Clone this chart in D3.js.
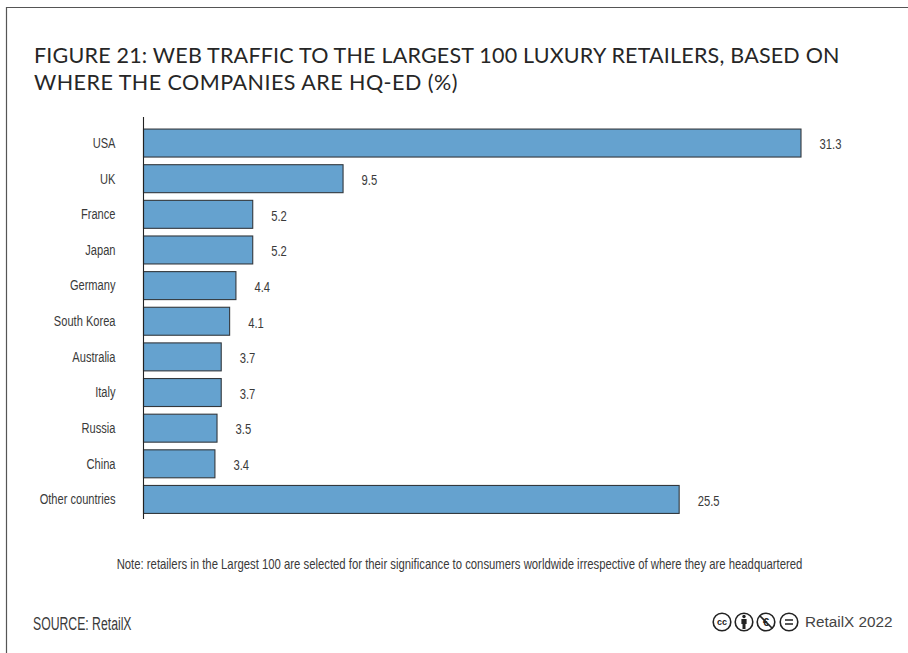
<!DOCTYPE html>
<html>
<head>
<meta charset="utf-8">
<script src="https://cdn.jsdelivr.net/npm/d3@7"></script>
<style>
  html, body { margin: 0; padding: 0; background: #fff; }
  svg { display: block; }
  .narrow { font-family: "Liberation Sans", sans-serif; fill: #3a3a3a; }
  .title { font-family: Lato, sans-serif; font-size: 21.5px; fill: #262626; }
</style>
</head>
<body>
<svg id="chart" width="908" height="653"></svg>
<script>
const categories = ["USA", "UK", "France", "Japan", "Germany", "South Korea", "Australia", "Italy", "Russia", "China", "Other countries"];
const shares = [31.3, 9.5, 5.2, 5.2, 4.4, 4.1, 3.7, 3.7, 3.5, 3.4, 25.5];
const titleLines = [
  "FIGURE 21: WEB TRAFFIC TO THE LARGEST 100 LUXURY RETAILERS, BASED ON",
  "WHERE THE COMPANIES ARE HQ-ED (%)"
];
const noteText = "Note: retailers in the Largest 100 are selected for their significance to consumers worldwide irrespective of where they are headquartered";
const sourceText = "SOURCE: RetailX";
const creditText = "RetailX 2022";

const svg = d3.select("#chart");

// Condensed text: no narrow face is available, so glyphs are squeezed horizontally
const squeezed = (px, py, sx = 0.75) => `translate(${px},${py}) scale(${sx},1)`;

// Frame: only the top and left rules are drawn
svg.append("path")
  .attr("d", "M908,7.5H6.5V653")
  .attr("fill", "none")
  .attr("stroke", "#555")
  .attr("stroke-width", 1.2);

// Heading
svg.append("g").selectAll("text").data(titleLines).join("text")
  .attr("class", "title")
  .attr("x", 34)
  .attr("y", (d, i) => 63 + i * 27)
  .attr("letter-spacing", (d, i) => (i === 0 ? 0.2 : 0.47))
  .text(d => d);

const x = d3.scaleLinear().domain([0, 31.3]).range([143.5, 801]);
const y = d3.scaleBand().domain(categories).range([125.5, 517]).paddingInner(0.215).paddingOuter(0.1);

// Bars
svg.append("g").selectAll("rect").data(shares).join("rect")
  .attr("x", x(0))
  .attr("y", (d, i) => y(categories[i]))
  .attr("width", d => x(d) - x(0))
  .attr("height", y.bandwidth())
  .attr("fill", "#65a2cf")
  .attr("stroke", "#33383d")
  .attr("stroke-width", 1.1);

// Category axis with the domain line only
const axis = svg.append("g")
  .attr("transform", `translate(${x(0)},0)`)
  .call(d3.axisLeft(y).tickSize(0).tickPadding(0));
axis.select(".domain")
  .attr("d", "M0,117V519")
  .attr("stroke", "#222")
  .attr("stroke-width", 1.1);
axis.selectAll("text")
  .attr("class", "narrow")
  .attr("font-size", 15)
  .attr("fill", null)
  .attr("x", 0)
  .attr("transform", squeezed(-28, 0, 0.74));

// Value labels
svg.append("g").selectAll("text").data(shares).join("text")
  .attr("class", "narrow")
  .attr("font-size", 15)
  .attr("transform", (d, i) => squeezed(x(d) + 18.5, y(categories[i]) + y.bandwidth() / 2 + 1))
  .attr("dy", "0.35em")
  .text(d => d.toFixed(1));

// Footnote and source
svg.append("text")
  .attr("class", "narrow")
  .attr("transform", squeezed(459.5, 569, 0.755))
  .attr("text-anchor", "middle")
  .attr("font-size", 15)
  .text(noteText);

svg.append("text")
  .attr("class", "narrow")
  .attr("transform", squeezed(33, 630, 0.68))
  .attr("font-size", 18)
  .text(sourceText);

// Licence badges: attribution, non-commercial, no-derivatives
const badgeCentres = [722, 744, 766, 789];
const badgeY = 622;
const badges = svg.append("g").attr("fill", "none").attr("stroke", "#222").attr("stroke-width", 1.6);
badgeCentres.forEach(cx => {
  badges.append("circle").attr("cx", cx).attr("cy", badgeY).attr("r", 8.8);
});
svg.append("text")
  .attr("x", badgeCentres[0]).attr("y", badgeY + 3)
  .attr("text-anchor", "middle")
  .attr("font-family", "Liberation Sans")
  .attr("font-weight", 700)
  .attr("font-size", 9)
  .attr("fill", "#222")
  .text("cc");
svg.append("text")
  .attr("x", badgeCentres[2]).attr("y", badgeY + 4)
  .attr("text-anchor", "middle")
  .attr("font-family", "Liberation Sans")
  .attr("font-weight", 700)
  .attr("font-size", 11)
  .attr("fill", "#222")
  .text("€");
badges.append("line")
  .attr("x1", badgeCentres[2] - 6.2).attr("y1", badgeY - 6.2)
  .attr("x2", badgeCentres[2] + 6.2).attr("y2", badgeY + 6.2);
badges.append("path")
  .attr("d", `M${badgeCentres[3] - 4},${badgeY - 2}h8M${badgeCentres[3] - 4},${badgeY + 2}h8`);
const person = svg.append("g").attr("fill", "#222");
person.append("circle").attr("cx", badgeCentres[1]).attr("cy", badgeY - 5.5).attr("r", 1.7);
person.append("rect").attr("x", badgeCentres[1] - 2.6).attr("y", badgeY - 3).attr("width", 5.2).attr("height", 5);
person.append("rect").attr("x", badgeCentres[1] - 1.5).attr("y", badgeY + 2).attr("width", 3).attr("height", 5);

svg.append("text")
  .attr("x", 805)
  .attr("y", 627)
  .attr("font-family", "'Liberation Sans', sans-serif")
  .attr("font-size", 15.3)
  .attr("fill", "#444")
  .text(creditText);
</script>
</body>
</html>
